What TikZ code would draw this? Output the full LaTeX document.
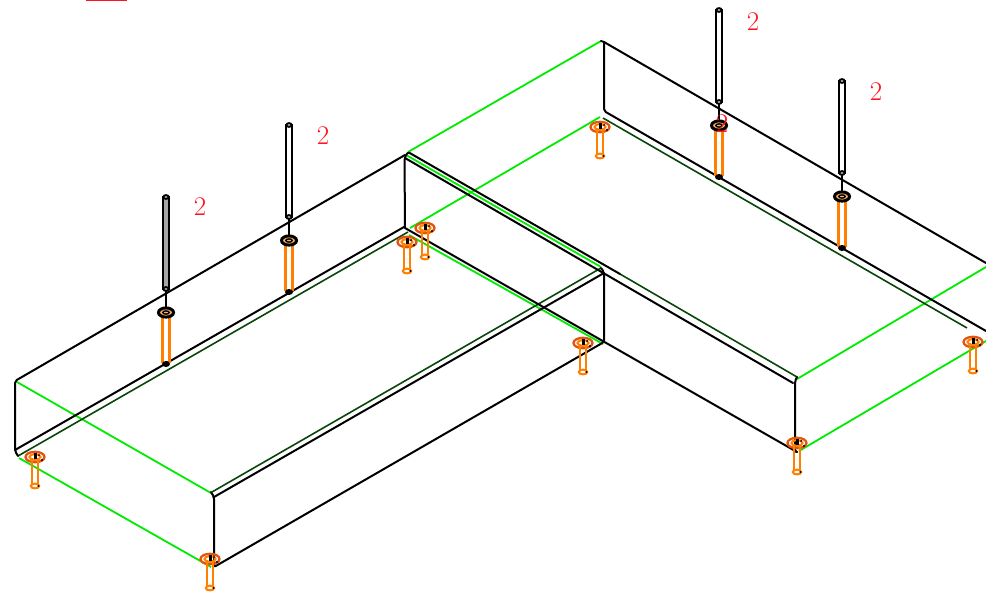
\documentclass[tikz,border=0pt]{standalone}
\usepackage{xcolor}
\definecolor{panelgreen}{RGB}{0,235,0}
\definecolor{foldgreen}{RGB}{10,70,10}
\definecolor{boltorange}{RGB}{255,128,0}
\definecolor{ringorange}{RGB}{225,85,15}
\definecolor{marknum}{RGB}{255,20,30}
\tikzset{
    edgeline/.style={black, line width=2pt, line cap=round},
    greenline/.style={panelgreen, line width=1.8pt},
    foldline/.style={foldgreen, line width=1.6pt},
    boltline/.style={boltorange, line width=2.1pt},
    ringline/.style={ringorange, line width=2.3pt},
    screwline/.style={black, line width=2pt},
    qtylabel/.style={marknum, font=\fontsize{27}{27}\selectfont, inner sep=0pt}
}

\begin{document}
\begin{tikzpicture}[x=1pt, y=-1pt]

    \useasboundingbox (0,0) rectangle (986,592);
    \clip (0,0) rectangle (986,592);

    % Mark at the top edge
    \draw[marknum, line width=1.6pt] (86.5,-4) -- (86.5,0.6) -- (126,0.6) -- (126,-4);

    % Green panel lines
    \draw[greenline] (17,382) -- (211,493);
    \draw[greenline] (19,458) -- (211,567);
    \draw[greenline] (408,152) -- (601,41);
    \draw[greenline] (410,228) -- (600,117);
    \draw[greenline] (409,235) -- (603,344);
    \draw[greenline] (407,155.5) -- (601,267);
    \draw[greenline] (797,379) -- (986,267);
    \draw[greenline] (799,451) -- (986,341);

    % Dark fold lines
    \draw[foldline] (18,456) -- (408,232);
    \draw[foldline] (212,492) -- (601,268);
    \draw[foldline] (620,274) -- (797,377);
    \draw[foldline] (603,118) -- (967,328);

    % Left wing
    \draw[edgeline, rounded corners=2pt] (405,155) -- (15,381) -- (15,451) -- (18,456);
    \draw[edgeline] (15,450) -- (404,227);
    \draw[edgeline, rounded corners=2pt] (211,492) -- (214,497) -- (214,567) -- (604,342) -- (604,272) -- (601,268);
    \draw[edgeline] (214,497) -- (604,273);

    % Right wing
    \draw[edgeline, rounded corners=2pt] (405,228) -- (404.5,158) -- (408,152) -- (620,274);
    \draw[edgeline] (405,158) -- (793,383);
    \draw[edgeline] (405,228) -- (797,452);
    \draw[edgeline, rounded corners=2pt] (797,377) -- (795,381) -- (795,452) -- (797,452);
    \draw[edgeline] (601,41) -- (604,42) -- (986,263);
    \draw[edgeline, rounded corners=2pt] (604,42) -- (604,111) -- (986,331);

    % Short bolts under the corners
    \foreach \bx/\by in {35/457, 210/559, 407/242, 425/228, 583/343, 600/127, 797/443, 973/342} {
        \draw[ringline] (\bx,\by) ellipse [x radius=9.5, y radius=5.2];
        \draw[boltline] (\bx,\by) ellipse [x radius=5.5, y radius=3];
        \draw[boltline] (\bx-3.2,\by+1) -- (\bx-3.2,\by+29);
        \draw[boltline] (\bx+3.2,\by+1) -- (\bx+3.2,\by+29);
        \draw[boltline, fill=white] (\bx,\by+29) ellipse [x radius=4.2, y radius=2.4];
        \draw[black, line width=3pt] (\bx,\by-4) -- (\bx,\by+2);
        \fill[black] (\bx+7,\by+3) circle [radius=1.2];
        \fill[black] (\bx+4,\by-2) circle [radius=1];
        \fill[black] (\bx+3.5,\by+29) circle [radius=1.1];
    }

    % Long screws with washers
    \foreach \sx/\sy/\sfill in {166/197/gray!70, 289/125/white, 719/10/white, 842/81/white} {
        \draw[boltline, line width=2.6pt] (\sx-3.4,\sy+115) -- (\sx-3.4,\sy+166);
        \draw[boltline, line width=2.6pt] (\sx+3.4,\sy+115) -- (\sx+3.4,\sy+166);
        \draw[screwline, fill=\sfill] (\sx-2.6,\sy) rectangle (\sx+2.6,\sy+92);
        \draw[screwline, fill=white] (\sx,\sy) ellipse [x radius=2.6, y radius=1.8];
        \draw[screwline, fill=white] (\sx,\sy+92) ellipse [x radius=2.6, y radius=1.8];
        \draw[black, line width=1.4pt] (\sx,\sy+94) -- (\sx,\sy+111);
        \draw[black, line width=3pt, fill=boltorange!60] (\sx,\sy+115.5) ellipse [x radius=7.5, y radius=4.6];
        \draw[black, line width=1.4pt] (\sx,\sy+115.5) ellipse [x radius=3.2, y radius=1.6];
        \fill[black] (\sx,\sy+167) ellipse [x radius=4, y radius=3];
    }

    % Quantity labels
    \node[qtylabel] (qtyA) at (200,207) {2};
    \node[qtylabel] (qtyB) at (323,136) {2};
    \node[qtylabel] (qtyC) at (753,22) {2};
    \node[qtylabel] (qtyD) at (876,92) {2};
    \node[qtylabel] (qtyE) at (722,124) {2};

\end{tikzpicture}
\end{document}
